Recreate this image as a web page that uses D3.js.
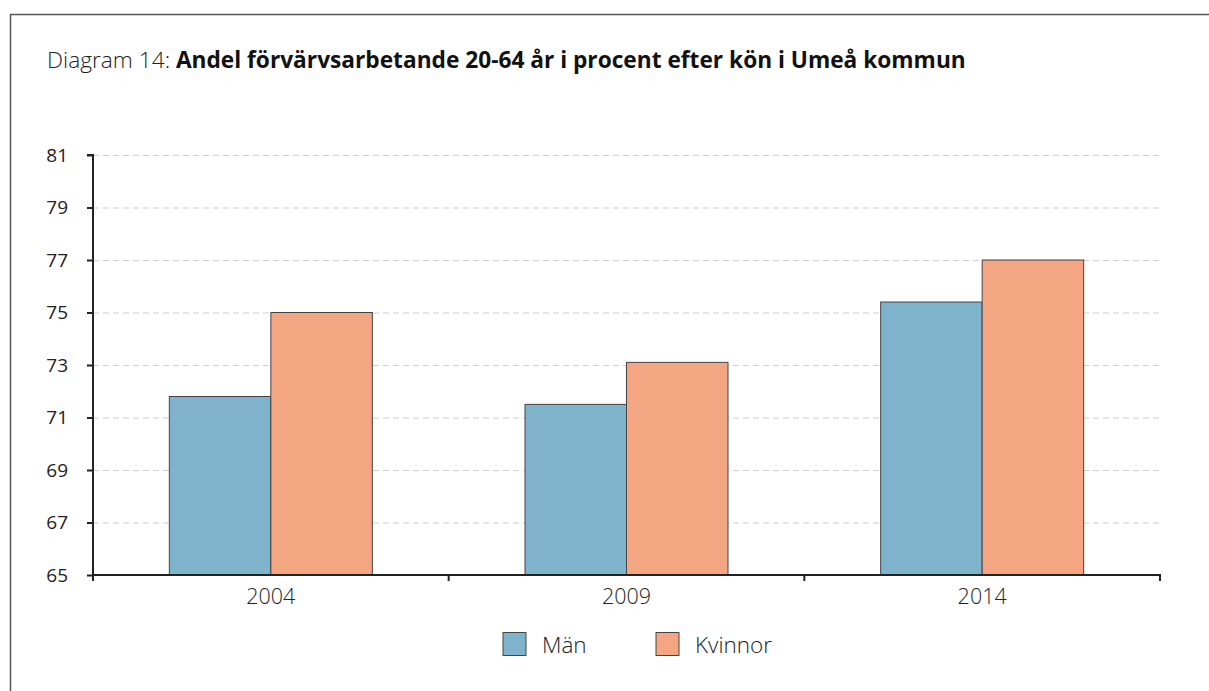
<!DOCTYPE html>
<html><head><meta charset="utf-8">
<script src="https://cdn.jsdelivr.net/npm/d3@7"></script>
<style>body{margin:0;background:#fff}svg{display:block}</style>
</head><body>
<script>
const categories = ["2004", "2009", "2014"];
const seriesNames = ["Män", "Kvinnor"];
const manValues = [71.8, 71.5, 75.4];
const kvinnorValues = [75.0, 73.1, 77.0];
const yTicks = [65, 67, 69, 71, 73, 75, 77, 79, 81];
const colors = ["#7fb2cb", "#f4a582"];

const W = 1209, H = 691;
const svg = d3.select("body").append("svg").attr("width", W).attr("height", H);
svg.append("rect").attr("x", 10.5).attr("y", 14.5).attr("width", W + 20).attr("height", H + 20)
  .attr("fill", "none").attr("stroke", "#555").attr("stroke-width", 1.5);

const title = svg.append("text").attr("x", 47).attr("y", 68).attr("font-size", 22.7)
  .attr("font-family", "'Open Sans', sans-serif").attr("fill", "#222");
title.append("tspan").attr("font-weight", 300).text("Diagram 14: ");
title.append("tspan").attr("font-weight", 700).attr("fill", "#111").text("Andel förvärvsarbetande 20-64 år i procent efter kön i Umeå kommun");

const x0 = 93, x1 = 1160, yTop = 155, yBot = 575;
const x = d3.scaleBand().domain(categories).range([x0, x1]);
const y = d3.scaleLinear().domain([65, 81]).range([yBot, yTop]);
const inner = d3.scaleBand().domain(seriesNames).range([0, 203]);

// grid
svg.append("g").selectAll("line").data(yTicks.slice(1)).join("line")
  .attr("x1", x0).attr("x2", x1).attr("y1", d => y(d) + 0.5).attr("y2", d => y(d) + 0.5)
  .attr("stroke", "#d0d0d0").attr("stroke-width", 1.2).attr("stroke-dasharray", "6,4");

const data = categories.map((c, i) => ({c, vals: [manValues[i], kvinnorValues[i]]}));
const groups = svg.append("g").selectAll("g").data(data).join("g")
  .attr("transform", d => `translate(${x(d.c) + x.bandwidth() / 2 - 101.5},0)`);
groups.selectAll("rect").data(d => d.vals.map((v, j) => ({v, s: seriesNames[j], j}))).join("rect")
  .attr("x", d => inner(d.s)).attr("width", inner.bandwidth())
  .attr("y", d => y(d.v)).attr("height", d => yBot - y(d.v))
  .attr("fill", d => colors[d.j]).attr("stroke", "#444").attr("stroke-width", 1);

// y axis
const yAxis = svg.append("g").attr("transform", `translate(${x0},0)`)
  .call(d3.axisLeft(y).tickValues(yTicks).tickSize(6).tickPadding(19));
yAxis.select(".domain").attr("stroke", "#222").attr("stroke-width", 2).attr("d", `M-6,${yTop}H0V${yBot}`);
yAxis.selectAll(".tick line").attr("stroke", "#222").attr("stroke-width", 2);
yAxis.selectAll("text").attr("font-size", 19).attr("font-family", "'Open Sans', sans-serif").attr("fill", "#222").attr("font-weight", 400);

// x axis
const xAxis = svg.append("g").attr("transform", `translate(0,${yBot})`)
  .call(d3.axisBottom(x).tickSize(0).tickPadding(14));
xAxis.select(".domain").attr("stroke", "#222").attr("stroke-width", 2).attr("d", `M${x0},6V0H${x1}V6`);
xAxis.selectAll("text").attr("font-size", 21.5).attr("font-family", "'Open Sans', sans-serif").attr("fill", "#222").attr("font-weight", 300);
const bounds = categories.slice(1).map(c => x(c));
svg.append("g").selectAll("line").data(bounds).join("line")
  .attr("x1", d => d).attr("x2", d => d).attr("y1", yBot).attr("y2", yBot + 6)
  .attr("stroke", "#222").attr("stroke-width", 2);

// legend
const legendX = [503, 656];
const lg = svg.append("g").selectAll("g").data(seriesNames).join("g")
  .attr("transform", (d, i) => `translate(${legendX[i]},632.5)`);
lg.append("rect").attr("width", 23).attr("height", 23).attr("fill", (d, i) => colors[i]).attr("stroke", "#444");
lg.append("text").attr("x", 39).attr("y", 20).attr("font-size", 22.5).attr("font-family", "'Open Sans', sans-serif")
  .attr("font-weight", 300).attr("fill", "#222").text(d => d);
</script>
</body></html>
